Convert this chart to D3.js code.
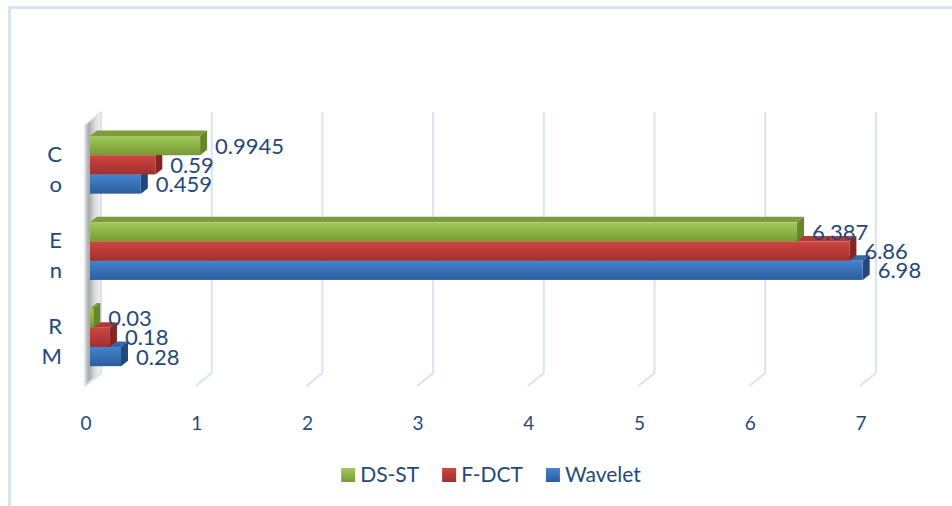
<!DOCTYPE html>
<html>
<head>
<meta charset="utf-8">
<script src="https://cdn.jsdelivr.net/npm/d3@7"></script>
<style>
  html, body { margin: 0; padding: 0; background: #fff; }
  svg { display: block; font-family: Lato, "Open Sans", sans-serif; }
</style>
</head>
<body>
<svg id="chart" width="952" height="506"></svg>
<script>
// categories top to bottom, each shown one letter per line
const categories = ["Co", "En", "RM"];
const series = ["DS-ST", "F-DCT", "Wavelet"];
const dsst = [0.9945, 6.387, 0.03];
const fdct = [0.59, 6.86, 0.18];
const wavelet = [0.459, 6.98, 0.28];
const ticks = [0, 1, 2, 3, 4, 5, 6, 7];

const values = { "DS-ST": dsst, "F-DCT": fdct, "Wavelet": wavelet };

// face colours per series: front gradient top/bottom, top face, side face
const palette = {
  "DS-ST":   { hi: "#a3c95a", lo: "#789a36", top: "#7e9b3e", side: "#68852c" },
  "F-DCT":   { hi: "#cf4441", lo: "#a0302e", top: "#b23936", side: "#862623" },
  "Wavelet": { hi: "#4384cf", lo: "#2c5d9b", top: "#3568aa", side: "#22487a" }
};

const textColor = "#1f497d";
const gridColor = "#d9e4f3";

const svg = d3.select("#chart");
const defs = svg.append("defs");

series.forEach((s, i) => {
  let g = defs.append("linearGradient")
    .attr("id", "grad" + i)
    .attr("x1", 0).attr("y1", 0).attr("x2", 0).attr("y2", 1);
  g.append("stop").attr("offset", "0%").attr("stop-color", palette[s].hi);
  g.append("stop").attr("offset", "100%").attr("stop-color", palette[s].lo);
});

let wallGrad = defs.append("linearGradient")
  .attr("id", "wallGrad")
  .attr("x1", 0).attr("y1", 0).attr("x2", 1).attr("y2", 0);
[["0%", "#d6d6d6"], ["25%", "#a9a9a9"], ["60%", "#d9d9d9"], ["100%", "#f5f5f5"]]
  .forEach(d => wallGrad.append("stop").attr("offset", d[0]).attr("stop-color", d[1]));

// outer frame (runs past the right and bottom edges)
svg.append("rect")
  .attr("x", 9.5).attr("y", 7.5)
  .attr("width", 1000).attr("height", 600)
  .attr("fill", "none")
  .attr("stroke", gridColor)
  .attr("stroke-width", 3);

// front floor scale; the back wall sits depthX to the right and depthY up
const x = d3.scaleLinear().domain([0, 7]).range([85, 85 + 7 * 110.7]);
const depthX = 16, depthY = 13;
const wallTop = 112, wallBottom = 373;

const y0 = d3.scaleBand()
  .domain(categories)
  .range([121.7, 380.5])
  .paddingInner(0.332)
  .paddingOuter(0.166);

const y1 = d3.scaleBand()
  .domain(series)
  .range([0, y0.bandwidth()]);

// left wall
svg.append("path")
  .attr("d", `M${x(0)},${wallTop + depthY} L${x(0) + depthX},${wallTop} ` +
             `L${x(0) + depthX},${wallBottom} L${x(0)},${wallBottom + depthY} Z`)
  .attr("fill", "url(#wallGrad)")
  .attr("stroke", gridColor)
  .attr("stroke-width", 1.5);

// gridlines on the back wall, folding down onto the floor
svg.append("g")
  .selectAll("path")
  .data(ticks).enter()
  .append("path")
  .attr("d", d => `M${x(d) + depthX},${wallTop} L${x(d) + depthX},${wallBottom} ` +
                  `L${x(d)},${wallBottom + depthY}`)
  .attr("fill", "none")
  .attr("stroke", gridColor)
  .attr("stroke-width", 2);

// tick labels along the front edge
svg.append("g")
  .selectAll("text")
  .data(ticks).enter()
  .append("text")
  .attr("x", d => x(d) + 1)
  .attr("y", 430)
  .attr("text-anchor", "middle")
  .attr("font-size", 19)
  .attr("fill", textColor)
  .text(d => d);

// category labels, one character per line
categories.forEach(c => {
  let cy = y0(c) + y0.bandwidth() / 2;
  c.split("").forEach((ch, i) => {
    svg.append("text")
      .attr("x", 62)
      .attr("y", cy - 3 + i * 30)
      .attr("text-anchor", "end")
      .attr("font-size", 22)
      .attr("fill", textColor)
      .text(ch);
  });
});

// bars: bar depth offset (front face to back face)
const barDX = 7, barDY = -5.5, barX0 = x(0) + 5;
const bx = v => x(v) + 5;

const barData = [];
// draw lower groups first, and within a group bottom series first
categories.slice().reverse().forEach(c => {
  let ci = categories.indexOf(c);
  series.slice().reverse().forEach(s => {
    barData.push({ cat: c, s: s, si: series.indexOf(s), v: values[s][ci] });
  });
});

const bars = svg.append("g")
  .selectAll("g")
  .data(barData).enter()
  .append("g");

bars.append("path")
  .attr("d", d => {
    let t = y0(d.cat) + y1(d.s), r = bx(d.v);
    return `M${barX0},${t} L${barX0 + barDX},${t + barDY} L${r + barDX},${t + barDY} L${r},${t} Z`;
  })
  .attr("fill", d => palette[d.s].top);

bars.append("path")
  .attr("d", d => {
    let t = y0(d.cat) + y1(d.s), b = t + y1.bandwidth(), r = bx(d.v);
    return `M${r},${t} L${r + barDX},${t + barDY} L${r + barDX},${b + barDY} L${r},${b} Z`;
  })
  .attr("fill", d => palette[d.s].side);

bars.append("rect")
  .attr("x", barX0)
  .attr("y", d => y0(d.cat) + y1(d.s))
  .attr("width", d => bx(d.v) - barX0)
  .attr("height", y1.bandwidth())
  .attr("fill", d => "url(#grad" + d.si + ")");

// value labels
svg.append("g")
  .selectAll("text")
  .data(barData).enter()
  .append("text")
  .attr("x", d => bx(d.v) + 15)
  .attr("y", d => y0(d.cat) + y1(d.s) + y1.bandwidth() - 1.5)
  .attr("font-size", 22)
  .attr("fill", textColor)
  .text(d => d.v);

// legend, centred under the plot
const legend = svg.append("g");
let items = series.map((s, i) => {
  let g = legend.append("g");
  g.append("rect")
    .attr("width", 14).attr("height", 14)
    .attr("y", 468)
    .attr("fill", "url(#grad" + i + ")");
  let t = g.append("text")
    .attr("x", 19)
    .attr("y", 482)
    .attr("font-size", 21)
    .attr("fill", textColor)
    .text(s);
  return { g: g, w: 19 + t.node().getComputedTextLength() };
});
let total = d3.sum(items, d => d.w) + 23 * (items.length - 1);
let lx = 491 - total / 2;
items.forEach(d => {
  d.g.attr("transform", `translate(${lx},0)`);
  lx += d.w + 23;
});
</script>
</body>
</html>
